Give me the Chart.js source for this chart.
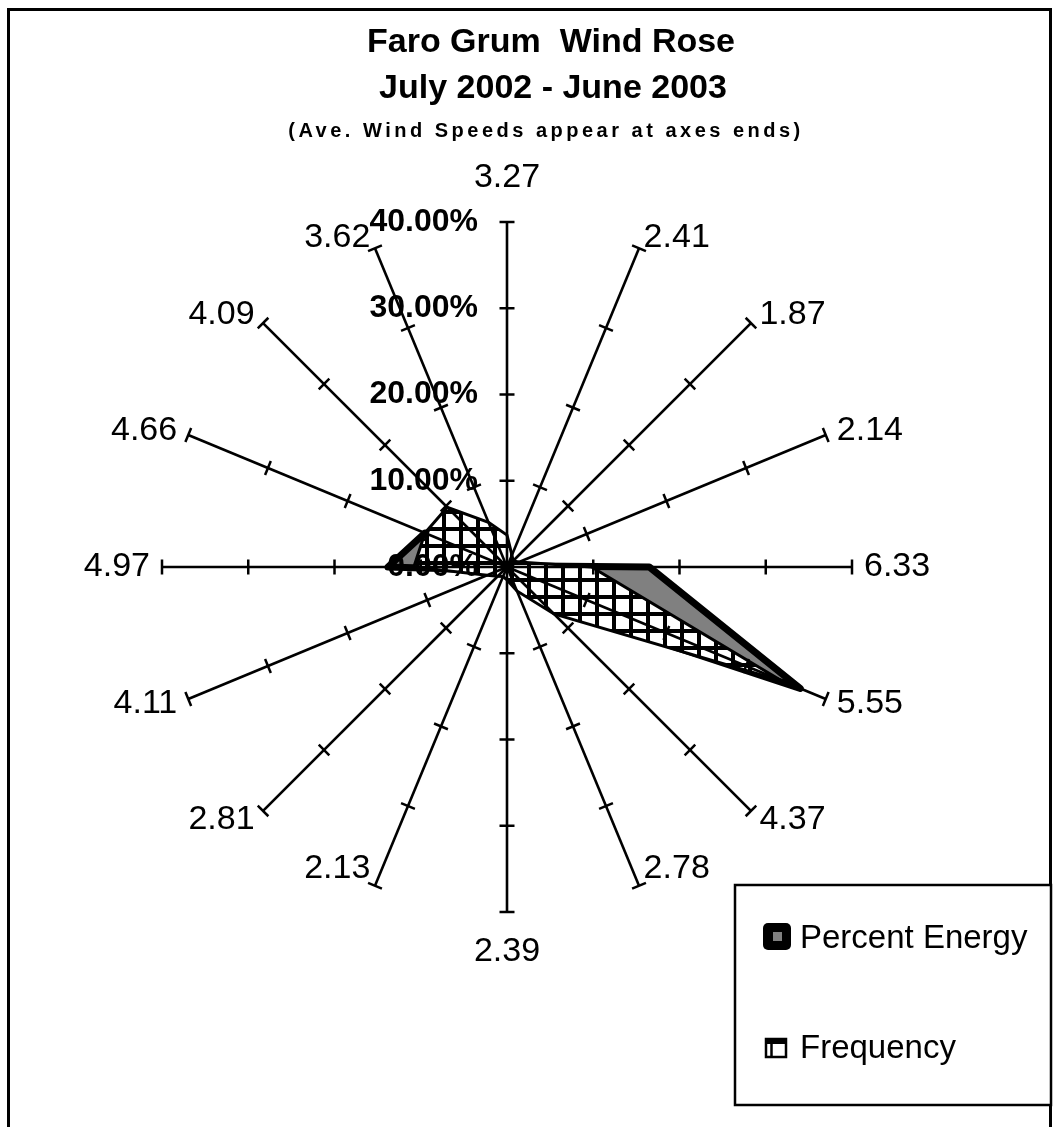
<!DOCTYPE html>
<html>
<head>
<meta charset="utf-8">
<title>Faro Grum Wind Rose</title>
<script src="https://cdn.jsdelivr.net/npm/chart.js@4.4.0/dist/chart.umd.min.js"></script>
<style>
    html, body { margin: 0; padding: 0; background: #ffffff; }
    canvas { display: block; }
</style>
</head>
<body>
<canvas id="myChart" width="1053" height="1127"></canvas>
<script>
// Direções (sentido horário a partir do Norte) e velocidades médias nas pontas dos eixos
const directions = ['N', 'NNE', 'NE', 'ENE', 'E', 'ESE', 'SE', 'SSE', 'S', 'SSW', 'SW', 'WSW', 'W', 'WNW', 'NW', 'NNW'];
const speedLabels = ['3.27', '2.41', '1.87', '2.14', '6.33', '5.55', '4.37', '2.78', '2.39', '2.13', '2.81', '4.11', '4.97', '4.66', '4.09', '3.62'];

// Valores em %
const energyData = [1.0, 0.3, 0.2, 0.4, 16.5, 36.8, 6.0, 1.0, 0.3, 0.2, 0.4, 1.0, 13.8, 10.3, 4.5, 1.5];
const frequencyData = [3.7, 1.5, 1.0, 1.5, 9.8, 34.5, 7.7, 3.0, 1.5, 1.2, 1.5, 2.5, 10.8, 10.3, 9.8, 5.6];

const tickValues = [0, 10, 20, 30, 40];
const tickLabels = ['0.00%', '10.00%', '20.00%', '30.00%', '40.00%'];

const titleLines = ['Faro Grum  Wind Rose', 'July 2002 - June 2003', '(Ave. Wind Speeds appear at axes ends)'];
const seriesNames = ['Percent Energy', 'Frequency'];

const FONT = "'Liberation Sans', Arial, sans-serif";

// Padrão quadriculado da série Frequency
function makeHatch() {
    const c = document.createElement('canvas');
    c.width = 17;
    c.height = 17;
    const g = c.getContext('2d');
    g.fillStyle = '#ffffff';
    g.fillRect(0, 0, 17, 17);
    g.fillStyle = '#000000';
    g.fillRect(0, 0, 17, 4);
    g.fillRect(0, 0, 4, 17);
    return g.createPattern(c, 'repeat');
}

const decoracao = {
    id: 'decoracao',
    afterDatasetsDraw(chart) {
        const ctx = chart.ctx;
        const scale = chart.scales.r;
        ctx.save();
        ctx.strokeStyle = '#000000';
        ctx.lineWidth = 2.5;
        chart.data.labels.forEach((_, i) => {
            const a = scale.getIndexAngle(i) - Math.PI / 2;
            const px = -Math.sin(a), py = Math.cos(a);
            tickValues.slice(1).forEach(v => {
                const p = scale.getPointPositionForValue(i, v);
                ctx.beginPath();
                ctx.moveTo(p.x - px * 7.5, p.y - py * 7.5);
                ctx.lineTo(p.x + px * 7.5, p.y + py * 7.5);
                ctx.stroke();
            });
        });
        ctx.restore();
    },
    afterDraw(chart) {
        const ctx = chart.ctx;
        const scale = chart.scales.r;
        ctx.save();
        ctx.fillStyle = '#000000';
        ctx.strokeStyle = '#000000';

        // moldura
        ctx.lineWidth = 3;
        ctx.strokeRect(8.5, 9.5, 1042, 1130);

        // títulos
        ctx.textAlign = 'center';
        ctx.textBaseline = 'middle';
        ctx.font = `bold 34px ${FONT}`;
        ctx.fillText(titleLines[0], 551, 43);
        ctx.fillText(titleLines[1], 553, 89);
        ctx.font = `bold 20px ${FONT}`;
        ctx.letterSpacing = '3.5px';
        ctx.fillText(titleLines[2], 546, 131);
        ctx.letterSpacing = '0px';

        // velocidades nas pontas dos eixos
        ctx.font = `34px ${FONT}`;
        chart.data.labels.forEach((lbl, i) => {
            const ang = scale.getIndexAngle(i);
            const s = Math.sin(ang), c = Math.cos(ang);
            let pad = 12;
            if (Math.abs(s) < 0.1) pad = c > 0 ? 44 : 40;
            const p = scale.getPointPosition(i, scale.drawingArea + pad);
            ctx.textAlign = s > 0.1 ? 'left' : (s < -0.1 ? 'right' : 'center');
            let y = p.y;
            if (c < -0.8 && Math.abs(s) > 0.1) y -= 28;
            ctx.fillText(lbl, p.x, y);
        });

        // rótulos do eixo de valores
        ctx.font = `bold 32px ${FONT}`;
        ctx.textAlign = 'right';
        tickValues.forEach((v, k) => {
            const p = scale.getPointPositionForValue(0, v);
            ctx.fillText(tickLabels[k], p.x - 29, p.y);
        });

        // legenda
        ctx.lineWidth = 2.5;
        ctx.fillStyle = '#ffffff';
        ctx.fillRect(735, 885, 316, 220);
        ctx.strokeRect(735, 885, 316, 220);

        const ds = chart.data.datasets;
        // Percent Energy
        ctx.fillStyle = '#000000';
        ctx.beginPath();
        ctx.roundRect(763, 923, 28, 27, 5);
        ctx.fill();
        ctx.fillStyle = ds[0].backgroundColor;
        ctx.fillRect(773, 932, 9, 9);
        // Frequency
        ctx.fillStyle = '#ffffff';
        ctx.fillRect(766, 1039, 20, 18);
        ctx.strokeRect(766, 1039, 20, 18);
        ctx.fillStyle = '#000000';
        ctx.fillRect(766, 1039, 20, 5);
        ctx.beginPath();
        ctx.moveTo(771.5, 1043);
        ctx.lineTo(771.5, 1057);
        ctx.stroke();

        ctx.fillStyle = '#000000';
        ctx.textAlign = 'left';
        ctx.font = `33px ${FONT}`;
        ctx.fillText(ds[0].label, 800, 939);
        ctx.fillText(ds[1].label, 800, 1049);

        ctx.restore();
    }
};

const ctx = document.getElementById('myChart').getContext('2d');

const myChart = new Chart(ctx, {
    type: 'radar',
    data: {
        labels: speedLabels,
        datasets: [
            {
                label: seriesNames[0],
                data: energyData,
                backgroundColor: '#808080',
                borderColor: '#000000',
                borderWidth: 7,
                borderJoinStyle: 'round',
                pointRadius: 0,
                fill: true,
                order: 1
            },
            {
                label: seriesNames[1],
                data: frequencyData,
                backgroundColor: makeHatch(),
                borderColor: '#000000',
                borderWidth: 3,
                pointRadius: 0,
                fill: true,
                order: 0
            }
        ]
    },
    options: {
        responsive: false,
        animation: false,
        layout: {
            padding: { left: 162, right: 201, top: 222, bottom: 215 }
        },
        plugins: {
            legend: { display: false },
            title: { display: false },
            tooltip: { enabled: false }
        },
        scales: {
            r: {
                min: 0,
                max: 40,
                startAngle: 0,
                ticks: { display: false, stepSize: 10 },
                grid: { display: false, z: 1 },
                angleLines: { display: true, color: '#000000', lineWidth: 2.6 },
                pointLabels: { display: false }
            }
        }
    },
    plugins: [decoracao]
});
</script>
</body>
</html>
